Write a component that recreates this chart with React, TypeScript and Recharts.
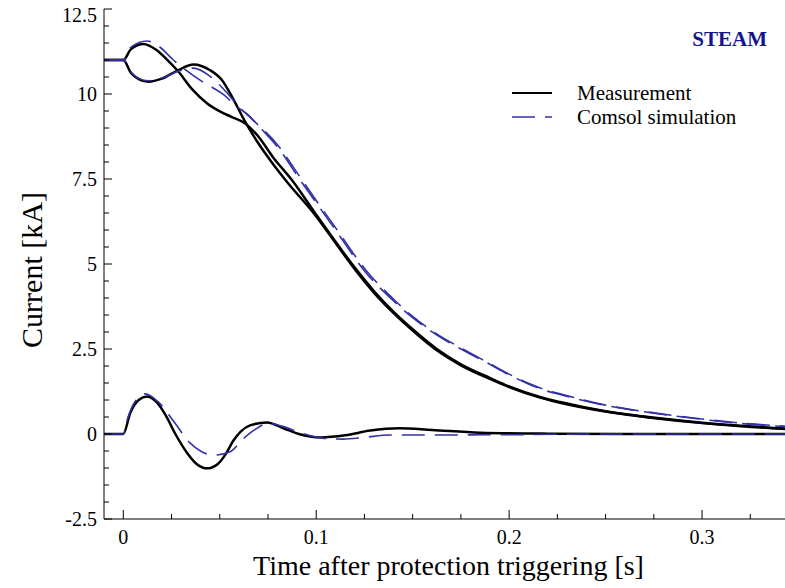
import { LineChart, Line, XAxis, YAxis, Legend, Label } from 'recharts'

const SERIF = '"Liberation Serif", "Times New Roman", serif'
const BLUE = '#3232a8'
const STEAM_BLUE = '#14148c'
const DASH = '23 10'

// [time s, current kA]
const measTop1: [number, number][] = [
  [-0.01, 11.0], [0, 11.0], [0.004, 11.32], [0.0105, 11.47], [0.017, 11.3], [0.0225, 11.02],
  [0.0281, 10.69], [0.036, 10.12], [0.0435, 9.72], [0.0503, 9.48], [0.056, 9.33], [0.063, 9.14],
  [0.07, 8.75], [0.0775, 8.15], [0.0874, 7.47], [0.1, 6.45], [0.1124, 5.47], [0.121, 4.82],
  [0.13, 4.2], [0.14, 3.6], [0.15, 3.08], [0.1625, 2.5], [0.175, 2.05], [0.19, 1.65], [0.2, 1.4],
  [0.216, 1.09], [0.2264, 0.94], [0.25, 0.67], [0.278, 0.46], [0.3, 0.33], [0.32, 0.24], [0.343, 0.16],
]

const measTop2: [number, number][] = [
  [-0.01, 11.0], [0, 11.0], [0.004, 10.62], [0.008, 10.44], [0.0131, 10.36], [0.02, 10.45],
  [0.0281, 10.69], [0.0364, 10.87], [0.045, 10.7], [0.0511, 10.41], [0.057, 9.85], [0.063, 9.2],
  [0.07, 8.55], [0.0775, 7.95], [0.0848, 7.42], [0.1, 6.4], [0.1124, 5.43], [0.121, 4.77],
  [0.13, 4.15], [0.14, 3.56], [0.15, 3.04], [0.1625, 2.46], [0.175, 2.02], [0.19, 1.62], [0.2, 1.38],
  [0.216, 1.07], [0.2264, 0.92], [0.25, 0.66], [0.278, 0.45], [0.3, 0.32], [0.32, 0.23], [0.343, 0.15],
]

const measBottom: [number, number][] = [
  [-0.01, 0], [0, 0], [0.0036, 0.62], [0.008, 1.0], [0.0123, 1.1], [0.017, 0.95], [0.022, 0.55],
  [0.027, 0.0], [0.033, -0.55], [0.038, -0.88], [0.0434, -1.01], [0.049, -0.88], [0.053, -0.6],
  [0.057, -0.2], [0.061, 0.08], [0.066, 0.26], [0.0745, 0.34], [0.083, 0.17], [0.091, 0.0],
  [0.102, -0.1], [0.115, -0.04], [0.128, 0.1], [0.143, 0.17], [0.16, 0.12], [0.185, 0.04],
  [0.22, 0.01], [0.26, 0], [0.343, 0],
]

const simTop1: [number, number][] = [
  [-0.01, 11.0], [0, 11.0], [0.004, 11.38], [0.0124, 11.56], [0.018, 11.42], [0.026, 11.0],
  [0.033, 10.68], [0.04, 10.4], [0.046, 10.2], [0.052, 9.98], [0.0589, 9.63], [0.064, 9.42],
  [0.072, 8.95], [0.08, 8.44], [0.0917, 7.47], [0.1, 6.8], [0.11, 6.0], [0.126, 4.73], [0.14, 3.92],
  [0.15, 3.42], [0.162, 2.93], [0.176, 2.47], [0.19, 2.05], [0.2, 1.74], [0.21, 1.47], [0.2187, 1.28],
  [0.2264, 1.16], [0.25, 0.84], [0.278, 0.59], [0.3, 0.43], [0.32, 0.31], [0.343, 0.22],
]

const simTop2: [number, number][] = [
  [-0.01, 11.0], [0, 11.0], [0.004, 10.65], [0.008, 10.46], [0.013, 10.39], [0.02, 10.47],
  [0.028, 10.66], [0.0364, 10.76], [0.045, 10.52], [0.053, 10.08], [0.06, 9.62], [0.066, 9.3],
  [0.08, 8.5], [0.0917, 7.55], [0.1, 6.87], [0.11, 6.07], [0.126, 4.8], [0.14, 3.97], [0.15, 3.46],
  [0.162, 2.96], [0.176, 2.5], [0.19, 2.07], [0.2, 1.76], [0.21, 1.49], [0.2187, 1.3], [0.2264, 1.18],
  [0.25, 0.85], [0.278, 0.6], [0.3, 0.44], [0.32, 0.32], [0.343, 0.23],
]

const simBottom: [number, number][] = [
  [-0.01, 0], [0, 0], [0.002, 0.41], [0.006, 0.95], [0.0114, 1.18], [0.018, 0.95], [0.026, 0.38],
  [0.0347, -0.27], [0.04, -0.5], [0.0468, -0.62], [0.0554, -0.52], [0.062, -0.15], [0.068, 0.12],
  [0.0753, 0.31], [0.083, 0.22], [0.092, 0.03], [0.104, -0.13], [0.114, -0.15], [0.125, -0.1],
  [0.138, -0.03], [0.16, -0.03], [0.2, -0.02], [0.25, 0], [0.343, 0],
]

const xTicks = [0, 0.025, 0.05, 0.075, 0.1, 0.125, 0.15, 0.175, 0.2, 0.225, 0.25, 0.275, 0.3, 0.325]
const xMajor = [0, 0.1, 0.2, 0.3]
const yTicks = [
  -2.5, -2, -1.5, -1, -0.5, 0, 0.5, 1, 1.5, 2, 2.5, 3, 3.5, 4, 4.5, 5, 5.5, 6, 6.5, 7, 7.5, 8,
  8.5, 9, 9.5, 10, 10.5, 11, 11.5, 12, 12.5,
]
const yMajor = [-2.5, 0, 2.5, 5, 7.5, 10, 12.5]

const legendItems = [
  { name: 'Measurement', color: '#000', width: 2, dash: undefined },
  { name: 'Comsol simulation', color: BLUE, width: 1.6, dash: DASH },
]

const toPoints = (arr: [number, number][]) => arr.map(([t, i]) => ({ t, i }))

const bottomTick = (p: any) => {
  const v = p.payload.value
  const major = xMajor.includes(v)
  return (
    <g>
      <line x1={p.x} x2={p.x} y1={p.y} y2={p.y - (major ? 9 : 5)} stroke="#000" />
      {major && (
        <text x={p.x} y={p.y + 25} textAnchor="middle" fontSize={20} fontFamily={SERIF} fill="#000">
          {v}
        </text>
      )}
    </g>
  )
}

const topTick = (p: any) => {
  const major = xMajor.includes(p.payload.value)
  return <line x1={p.x} x2={p.x} y1={p.y} y2={p.y + (major ? 7 : 5)} stroke="#000" />
}

const leftTick = (p: any) => {
  const v = p.payload.value
  const major = yMajor.includes(v)
  // the top label sits a little lower so it stays inside the page
  const shift = v === 12.5 ? 6 : 0
  return (
    <g>
      <line x1={p.x} x2={p.x + (major ? 8 : 5)} y1={p.y} y2={p.y} stroke="#000" />
      {major && (
        <text x={p.x - 7} y={p.y + 7 + shift} textAnchor="end" fontSize={20} fontFamily={SERIF} fill="#000">
          {v}
        </text>
      )}
    </g>
  )
}

const renderLegend = () => (
  <div style={{ fontFamily: SERIF }}>
    <div
      style={{
        textAlign: 'right',
        fontWeight: 'bold',
        fontSize: 21,
        lineHeight: '24.5px',
        color: STEAM_BLUE,
        marginBottom: 29.5,
      }}
    >
      STEAM
    </div>
    {legendItems.map((item) => (
      <div
        key={item.name}
        style={{ display: 'flex', alignItems: 'center', height: 24.5, fontSize: 21, lineHeight: '24.5px', color: '#000' }}
      >
        <svg width={40} height={4} style={{ marginRight: 25 }}>
          <line x1={0} x2={40} y1={2} y2={2} stroke={item.color} strokeWidth={item.width} strokeDasharray={item.dash} />
        </svg>
        <span>{item.name}</span>
      </div>
    ))}
  </div>
)

export default function App() {
  const common = { type: 'monotone' as const, dataKey: 'i', dot: false, activeDot: false, isAnimationActive: false }
  return (
    <div style={{ position: 'absolute', left: 0, top: 0, width: 785, height: 588, background: '#fff' }}>
      <LineChart width={785} height={588} margin={{ top: 9, right: 0, bottom: 0, left: 0 }}>
        <XAxis
          dataKey="t"
          type="number"
          domain={[-0.01, 0.343]}
          allowDataOverflow
          ticks={xTicks}
          interval={0}
          height={69}
          tickLine={false}
          tickSize={0}
          tickMargin={0}
          tick={bottomTick}
          axisLine={{ stroke: '#000' }}
        >
          <Label
            content={(lp: any) => {
              const vb = lp.viewBox
              return (
                <text x={vb.x + vb.width / 2 + 4} y={vb.y + 56} textAnchor="middle" fontSize={28} fontFamily={SERIF} fill="#000">
                  Time after protection triggering [s]
                </text>
              )
            }}
          />
        </XAxis>
        <XAxis
          xAxisId="top"
          orientation="top"
          dataKey="t"
          type="number"
          domain={[-0.01, 0.343]}
          allowDataOverflow
          ticks={xTicks}
          interval={0}
          height={0}
          tickLine={false}
          tickSize={0}
          tickMargin={0}
          tick={topTick}
          axisLine={{ stroke: '#000' }}
        />
        <YAxis
          type="number"
          domain={[-2.5, 12.5]}
          allowDataOverflow
          ticks={yTicks}
          interval={0}
          width={104}
          tickLine={false}
          tickSize={0}
          tickMargin={0}
          tick={leftTick}
          axisLine={{ stroke: '#000' }}
        >
          <Label
            content={(lp: any) => {
              const vb = lp.viewBox
              const cx = 41.5
              const cy = vb.y + vb.height / 2 + 6
              return (
                <text
                  x={cx}
                  y={cy}
                  transform={`rotate(-90, ${cx}, ${cy})`}
                  textAnchor="middle"
                  fontSize={30}
                  fontFamily={SERIF}
                  fill="#000"
                >
                  Current [kA]
                </text>
              )
            }}
          />
        </YAxis>
        <Legend
          layout="vertical"
          align="center"
          verticalAlign="middle"
          content={renderLegend}
          wrapperStyle={{ left: 512, top: 26.7, width: 255 }}
        />
        <Line {...common} data={toPoints(measTop1)} name="Measurement" stroke="#000" strokeWidth={2.5} />
        <Line {...common} data={toPoints(measTop2)} stroke="#000" strokeWidth={2.5} />
        <Line {...common} data={toPoints(measBottom)} stroke="#000" strokeWidth={2.5} />
        <Line {...common} data={toPoints(simTop1)} name="Comsol simulation" stroke={BLUE} strokeWidth={1.6} strokeDasharray={DASH} />
        <Line {...common} data={toPoints(simTop2)} stroke={BLUE} strokeWidth={1.6} strokeDasharray={DASH} />
        <Line {...common} data={toPoints(simBottom)} stroke={BLUE} strokeWidth={1.6} strokeDasharray={DASH} />
      </LineChart>
    </div>
  )
}
